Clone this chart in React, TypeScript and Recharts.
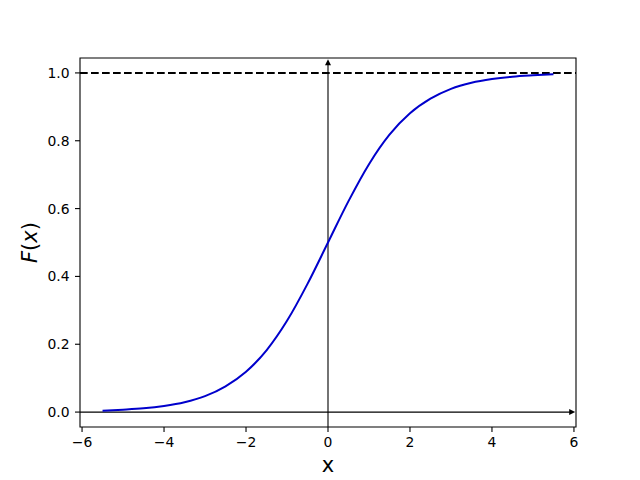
import React from 'react';
import { LineChart, Line, XAxis, YAxis, ReferenceLine, ReferenceArea, ReferenceDot } from 'recharts';

const xValues = [-5.5, -5, -4.5, -4, -3.5, -3, -2.5, -2, -1.5, -1, -0.5, 0, 0.5, 1, 1.5, 2, 2.5, 3, 3.5, 4, 4.5, 5, 5.5];
const fValues = [0.004, 0.007, 0.011, 0.018, 0.029, 0.047, 0.076, 0.119, 0.182, 0.269, 0.378, 0.5, 0.622, 0.731, 0.818, 0.881, 0.924, 0.953, 0.971, 0.982, 0.989, 0.993, 0.996];
const xTicks = [-6, -4, -2, 0, 2, 4, 6];
const yTicks = [0, 0.2, 0.4, 0.6, 0.8, 1.0];
const xDomain: [number, number] = [-6.05, 6.05];
const yDomain: [number, number] = [-0.044, 1.044];
const asymptote = 1.0;
const xArrowEnd = 6.03;
const yArrowEnd = 1.04;

const data = xValues.map((x, i) => ({ x, y: fValues[i] }));

const FONT = 'DejaVu Sans, sans-serif';
const fmtX = (v: number) => String(v).replace('-', '\u2212');
const fmtY = (v: number) => v.toFixed(1);

const UpArrow = (props: any) => {
  const { cx, cy } = props;
  return <path d={`M${cx},${cy} L${cx - 3},${cy + 6} L${cx + 3},${cy + 6} Z`} fill="#000" />;
};
const RightArrow = (props: any) => {
  const { cx, cy } = props;
  return <path d={`M${cx},${cy} L${cx - 6},${cy - 3} L${cx - 6},${cy + 3} Z`} fill="#000" />;
};

export default function App() {
  return (
    <div style={{ position: 'absolute', left: 0, top: 0, background: '#fff' }}>
      <LineChart width={640} height={480} data={data} margin={{ top: 58, right: 64, bottom: 0, left: 0 }}>
        <XAxis
          dataKey="x"
          type="number"
          domain={xDomain}
          ticks={xTicks}
          allowDataOverflow
          tickFormatter={fmtX}
          axisLine={false}
          tickLine={{ stroke: '#000', strokeWidth: 1.1 }}
          tickSize={5}
          tickMargin={5}
          height={53}
          tick={{ fill: '#000', fontSize: 13.9, fontFamily: FONT }}
          label={(p: any) => {
            const vb = p.viewBox;
            return (
              <text x={vb.x + vb.width / 2} y={472} textAnchor="middle" fontSize={21} fontFamily={FONT} fill="#000">
                x
              </text>
            );
          }}
        />
        <YAxis
          type="number"
          domain={yDomain}
          ticks={yTicks}
          allowDataOverflow
          tickFormatter={fmtY}
          axisLine={false}
          tickLine={{ stroke: '#000', strokeWidth: 1.1 }}
          tickSize={5}
          tickMargin={5.5}
          width={80}
          tick={{ fill: '#000', fontSize: 13.9, fontFamily: FONT }}
          label={(p: any) => {
            const vb = p.viewBox;
            const cy = vb.y + vb.height / 2;
            return (
              <text x={37} y={cy} transform={`rotate(-90 37 ${cy})`} textAnchor="middle" fontSize={21} fontFamily={FONT} fill="#000">
                <tspan fontStyle="italic">F</tspan>
                <tspan>(</tspan>
                <tspan fontStyle="italic">x</tspan>
                <tspan>)</tspan>
              </text>
            );
          }}
        />
        <ReferenceArea x1={xDomain[0]} x2={xDomain[1]} y1={yDomain[0]} y2={yDomain[1]} fill="none" stroke="#000" strokeWidth={1.1} ifOverflow="visible" />
        <ReferenceLine y={asymptote} stroke="#000" strokeWidth={2} strokeDasharray="7.7 3.3" />
        <ReferenceLine segment={[{ x: 0, y: yDomain[0] }, { x: 0, y: yArrowEnd - 0.01 }]} stroke="#000" strokeWidth={1.1} ifOverflow="visible" />
        <ReferenceLine segment={[{ x: xDomain[0], y: 0 }, { x: xArrowEnd - 0.1, y: 0 }]} stroke="#000" strokeWidth={1.1} ifOverflow="visible" />
        <ReferenceDot x={0} y={yArrowEnd} r={3} shape={UpArrow} ifOverflow="visible" />
        <ReferenceDot x={xArrowEnd} y={0} r={3} shape={RightArrow} ifOverflow="visible" />
        <Line dataKey="y" type="monotone" stroke="#0000cc" strokeWidth={2} dot={false} isAnimationActive={false} />
      </LineChart>
    </div>
  );
}
